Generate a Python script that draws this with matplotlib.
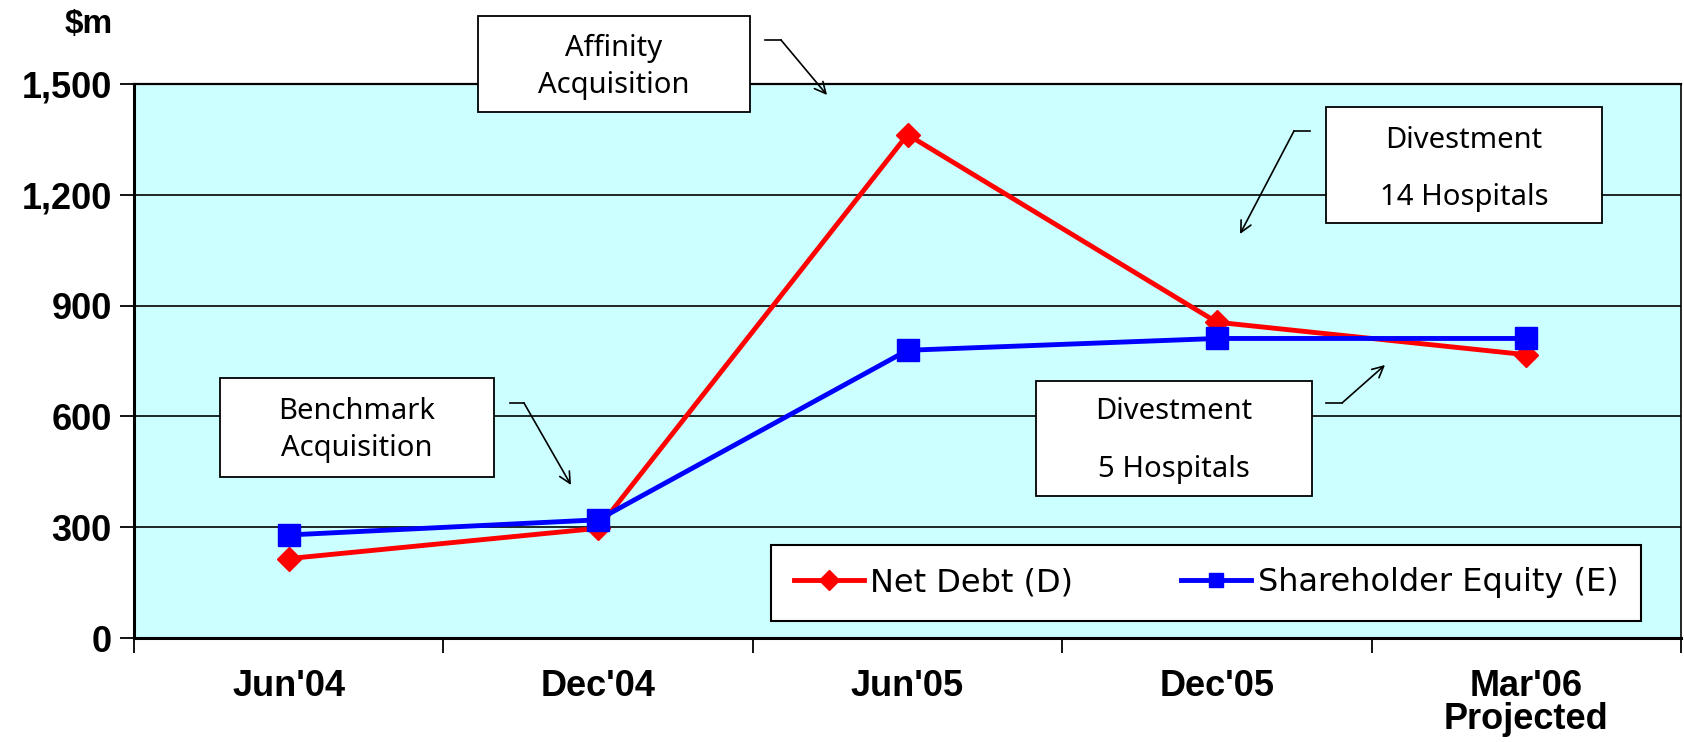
"""Net debt vs shareholder equity, Jun'04 - Mar'06."""
import numpy as np
import matplotlib
matplotlib.use("Agg")
import matplotlib.pyplot as plt
from matplotlib.patches import Rectangle
from matplotlib.lines import Line2D
from matplotlib.ticker import FuncFormatter

W, H = 1684, 742

periods = ["Jun'04", "Dec'04", "Jun'05", "Dec'05", "Mar'06\nProjected"]
net_debt = [215, 297, 1363, 855, 767]
equity = [279, 320, 779, 811, 811]
y_ticks = [0, 300, 600, 900, 1200, 1500]


def px(x, y):
    """Pixel position -> figure fraction."""
    return x / W, 1 - y / H


def note_box(fig, x0, y0, x1, y1, lines, ys, cx):
    """White box with centred lines of text."""
    fx, fy = px(x0, y1)
    fig.patches.append(Rectangle((fx, fy), (x1 - x0) / W, (y1 - y0) / H,
                                 transform=fig.transFigure, facecolor="white",
                                 edgecolor="black", linewidth=1.3, zorder=5))
    for t, yy in zip(lines, ys):
        fig.text(*px(cx, yy), t, ha="center", va="center", fontsize=21,
                 family=["Noto Sans", "DejaVu Sans"], zorder=6)


def elbow_arrow(fig, p0, p1, p2):
    """Short flat leader, then an open arrow."""
    a, b = px(*p0), px(*p1)
    fig.add_artist(Line2D([a[0], b[0]], [a[1], b[1]], color="black", lw=1.2,
                          transform=fig.transFigure, zorder=6))
    fig.add_artist(plt.Annotation("", xy=px(*p2), xytext=b,
                                  xycoords="figure fraction", textcoords="figure fraction",
                                  arrowprops=dict(arrowstyle="->,head_length=0.8,head_width=0.4",
                                                  color="black", lw=1.2, shrinkA=0, shrinkB=0),
                                  zorder=6))


def main():
    fig = plt.figure(figsize=(W / 100, H / 100), dpi=100)
    l, b = px(134, 638)
    r, t = px(1681, 84)
    ax = fig.add_axes([l, b, r - l, t - b])
    ax.set_facecolor("#CCFFFF")

    x = np.arange(len(periods))
    ax.plot(x, net_debt, color="#FF0000", lw=3.5, marker="D", markersize=12,
            label="Net Debt (D)", zorder=4)
    ax.plot(x, equity, color="#0000FF", lw=3.5, marker="s", markersize=16,
            label="Shareholder Equity (E)", zorder=5)

    ax.set_xlim(-0.5, len(periods) - 0.5)
    ax.set_ylim(0, 1500)
    ax.set_yticks(y_ticks)
    ax.yaxis.set_major_formatter(FuncFormatter(lambda v, p: f"{int(v):,}"))
    ax.yaxis.grid(True, color="black", lw=1.2)
    ax.set_axisbelow(True)

    ax.set_xticks(x)
    ax.set_xticklabels(periods, linespacing=0.95)
    ax.set_xticks(np.arange(-0.5, len(periods)), minor=True)
    ax.tick_params(axis="x", which="major", length=0, pad=22)
    ax.tick_params(axis="x", which="minor", length=11, width=1.3, direction="out")
    ax.tick_params(axis="y", length=10, width=1.3, direction="out", pad=6)
    for lab in ax.get_xticklabels() + ax.get_yticklabels():
        lab.set_family(["Liberation Sans", "DejaVu Sans"])
        lab.set_fontweight("bold")
        lab.set_fontsize(26)

    for s in ["left", "bottom"]:
        ax.spines[s].set_linewidth(2.2)
    ax.spines["top"].set_linewidth(1.6)
    ax.spines["right"].set_linewidth(1.2)

    fig.text(*px(89, 24), "$m", ha="center", va="center", fontsize=24,
             fontweight="bold", family=["Liberation Sans", "DejaVu Sans"])

    leg = ax.legend(loc="lower left", bbox_to_anchor=(0.412, 0.031, 0.562, 0.131),
                    mode="expand", ncol=2, fancybox=False, framealpha=1,
                    edgecolor="black", handlelength=2.2, borderpad=0.7,
                    borderaxespad=0, columnspacing=1.5, handletextpad=0.2,
                    prop=dict(family=["DejaVu Sans"], size=23))
    leg.get_frame().set_linewidth(1.5)
    for h in leg.legend_handles:
        h.set_markersize(10)

    note_box(fig, 478, 16, 750, 112, ["Affinity", "Acquisition"], [48, 86], 614)
    note_box(fig, 1326, 107, 1602, 223, ["Divestment", "14 Hospitals"], [140, 197], 1464)
    note_box(fig, 220, 378, 494, 477, ["Benchmark", "Acquisition"], [411, 449], 357)
    note_box(fig, 1036, 381, 1312, 496, ["Divestment", "5 Hospitals"], [411, 469], 1174)

    elbow_arrow(fig, (765, 40), (781, 40), (827, 95))
    elbow_arrow(fig, (1310, 131), (1294, 131), (1240, 234))
    elbow_arrow(fig, (510, 403), (524, 403), (571, 485))
    elbow_arrow(fig, (1326, 403), (1342, 403), (1385, 365))

    fig.savefig("out.png", dpi=100)


if __name__ == "__main__":
    main()
